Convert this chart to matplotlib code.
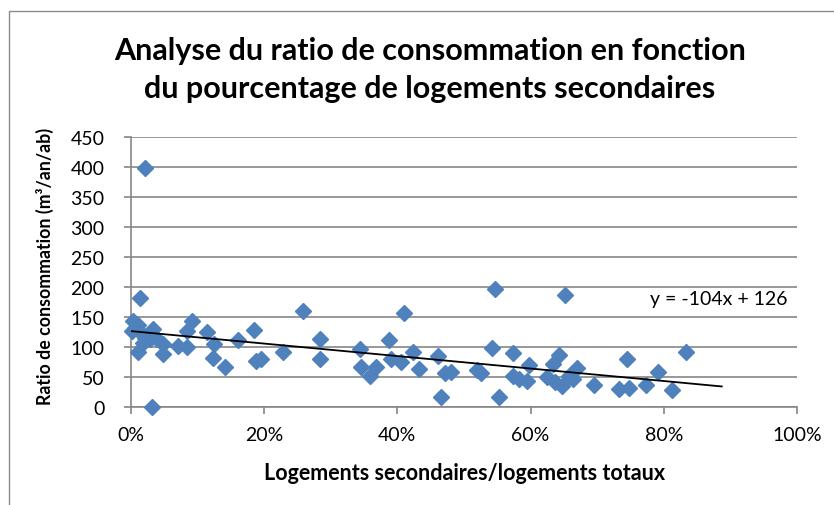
import numpy as np
import matplotlib
matplotlib.use("Agg")
import matplotlib.pyplot as plt
from matplotlib.ticker import PercentFormatter, MultipleLocator
from matplotlib.patches import Rectangle

plt.rcParams['font.family'] = ['Lato', 'DejaVu Sans']

# part de logements secondaires (fraction) et ratio de consommation (m3/an/ab)
part_secondaires = [
    0.021, 0.0135, 0.0035, 0.011, 0.002, 0.006, 0.016, 0.0335, 0.0285, 0.011,
    0.0185, 0.021, 0.027, 0.0385, 0.0485, 0.0485, 0.071, 0.0835, 0.091, 0.0835,
    0.114, 0.124, 0.123, 0.141, 0.031,
    0.161, 0.184, 0.188, 0.195, 0.228, 0.259, 0.284, 0.284,
    0.344, 0.346, 0.359, 0.368, 0.387, 0.391, 0.406, 0.410, 0.424, 0.432,
    0.461, 0.466, 0.471, 0.481,
    0.519, 0.525, 0.542, 0.546, 0.553, 0.573, 0.574, 0.583, 0.594, 0.598,
    0.624, 0.634, 0.643, 0.637, 0.647, 0.652, 0.657, 0.664, 0.670, 0.695,
    0.732, 0.747, 0.745, 0.774, 0.792, 0.812, 0.834,
]
ratio_conso = [
    398, 181, 143, 136, 127, 132, 122, 130, 113, 92,
    107, 115, 120, 113, 104, 88, 102, 99, 143, 127,
    124, 104, 82, 66, 0,
    111, 128, 76, 80, 92, 160, 113, 80,
    96, 66, 52, 66, 112, 80, 74, 156, 91, 63,
    85, 17, 56, 58,
    62, 57, 98, 196, 17, 89, 52, 46, 43, 69,
    50, 72, 86, 42, 35, 186, 52, 46, 64, 36,
    30, 32, 80, 36, 58, 28, 92,
]

# courbe de tendance linéaire affichée par le tableur
pente = -104
origine = 126
fin_tendance = 0.887

titre = "Analyse du ratio de consommation en fonction\ndu pourcentage de logements secondaires"
label_x = "Logements secondaires/logements totaux"
label_y = "Ratio de consommation (m³/an/ab)"

fig = plt.figure(figsize=(8.34, 5.06), dpi=100)
ax = fig.add_axes([131 / 834, 1 - 407.7 / 506, 666 / 834, 270 / 506])

grid_col = '#868686'
ax.plot(part_secondaires, ratio_conso, linestyle='none', marker='D',
        markersize=7.8, color='#4F81BD', zorder=3, clip_on=False)

xt = np.array([0, fin_tendance])
ax.plot(xt, pente * xt + origine, color='black', linewidth=1.3, zorder=4)
ax.text(0.985, 180, f"y = {pente}x + {origine}", ha='right', va='center',
        fontsize=14, color='black')

ax.set_xlim(0, 1)
ax.set_ylim(0, 450)
ax.yaxis.set_major_locator(MultipleLocator(50))
ax.xaxis.set_major_locator(MultipleLocator(0.2))
ax.xaxis.set_major_formatter(PercentFormatter(1.0, decimals=0))
ax.grid(axis='y', color=grid_col, linewidth=1.2)
ax.set_axisbelow(True)
for s in ['top', 'right']:
    ax.spines[s].set_visible(False)
for s in ['left', 'bottom']:
    ax.spines[s].set_color(grid_col)
    ax.spines[s].set_linewidth(1.2)
ax.tick_params(axis='both', direction='out', length=5, width=1.2,
               color=grid_col, labelsize=14, labelcolor='black')
ax.tick_params(axis='y', pad=14)
ax.tick_params(axis='x', pad=9)

fig.text(430 / 834, 1 - 70 / 506, titre, ha='center', va='center',
         fontsize=22, fontweight='bold', linespacing=1.45)
fig.text(465 / 834, 1 - 473 / 506, label_x, ha='center', va='center',
         fontsize=15.5, fontweight='bold')
fig.text(45 / 834, 1 - 266 / 506, label_y, ha='center', va='center',
         rotation=90, fontsize=12.8, fontweight='bold')

# cadre de la zone de graphique
fig.patches.append(Rectangle((9 / 834, -0.1), 1.2, 1.1 - 12 / 506,
                             transform=fig.transFigure, fill=False,
                             edgecolor='#8c8c8c', linewidth=1.0))

fig.savefig("out.png", dpi=100)
